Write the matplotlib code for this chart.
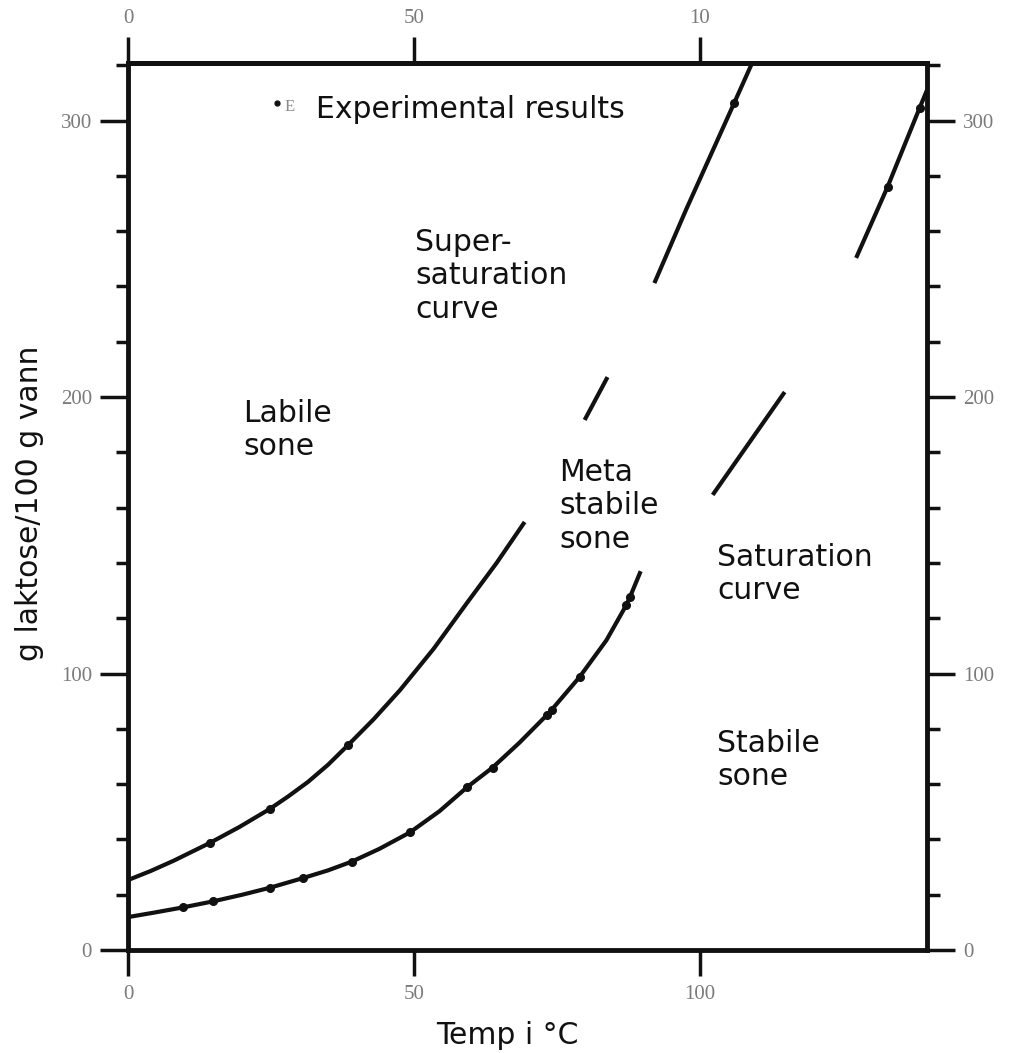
import matplotlib
matplotlib.use("Agg")
import matplotlib.pyplot as plt
from matplotlib.ticker import MultipleLocator

# ---- data ----
# Supersaturation curve, visible pieces (temp °C, g lactose / 100 g water)
sup_a_x = [0, 4, 8, 14.3, 19.5, 24.8, 28, 31.5, 35, 38.5, 43, 47.6, 53.5, 59.3, 64.5, 69.4]
sup_a_y = [25.3, 28.6, 32.3, 38.7, 44.5, 51.0, 55.5, 60.8, 67.0, 74.1, 83.5, 94.0, 109.0, 125.5, 140.0, 154.8]
sup_b_x = [79.9, 83.9]
sup_b_y = [191.7, 207.2]
sup_c_x = [92.1, 97.7, 106.1, 109.2]
sup_c_y = [241.2, 268.0, 306.5, 320.8]

# Saturation curve, visible pieces
sat_a_x = [0, 4.5, 9.6, 14.9, 20, 24.8, 30.6, 35, 39.2, 44, 49.3, 54.5, 59.4, 63.8, 68.5,
           73.3, 74.1, 79.0, 83.7, 87.2, 87.8, 89.7]
sat_a_y = [11.9, 13.5, 15.4, 17.6, 20.0, 22.5, 26.0, 28.8, 32.0, 36.6, 42.5, 50.2, 59.0, 66.0,
           75.0, 85.0, 86.8, 98.7, 112.0, 124.8, 127.5, 137.0]
sat_b_x = [102.3, 108.6, 114.9]
sat_b_y = [164.6, 183.2, 201.8]
sat_c_x = [127.4, 132.9, 138.5, 139.8]
sat_c_y = [250.3, 276.0, 304.5, 311.0]

# Experimental results (dots)
exp_sup_x = [14.3, 24.8, 38.5, 106.1]
exp_sup_y = [38.7, 51.0, 74.1, 306.5]
exp_sat_x = [9.6, 14.9, 24.8, 30.6, 39.2, 49.3, 59.4, 63.8, 73.3, 74.1, 79.0, 87.2, 87.8, 132.9, 138.5]
exp_sat_y = [15.4, 17.6, 22.5, 26.0, 32.0, 42.5, 59.0, 66.0, 85.0, 86.8, 98.7, 124.8, 127.5, 276.0, 304.5]

x_ticks = [0, 50, 100]
x_ticklabels_bottom = ["0", "50", "100"]
x_ticklabels_top = ["0", "50", "10"]
y_ticks = [0, 100, 200, 300]

# ---- figure ----
W, H = 1009, 1053
fig = plt.figure(figsize=(W / 100, H / 100), dpi=100)
ax = fig.add_axes([128 / W, 1 - 950 / H, (927 - 128) / W, (950 - 63) / H])
ax.set_xlim(0, 139.8)
ax.set_ylim(0, 320.8)

ink = "#111111"
lw_curve = 3.0
for xs, ys in [(sup_a_x, sup_a_y), (sup_b_x, sup_b_y), (sup_c_x, sup_c_y),
               (sat_a_x, sat_a_y), (sat_b_x, sat_b_y), (sat_c_x, sat_c_y)]:
    ax.plot(xs, ys, color=ink, lw=lw_curve, solid_capstyle="butt",
            solid_joinstyle="round", clip_on=False, zorder=3)

ax.plot(exp_sup_x, exp_sup_y, "o", color=ink, ms=5.5, zorder=4, clip_on=False)
ax.plot(exp_sat_x, exp_sat_y, "o", color=ink, ms=5.5, zorder=4, clip_on=False)

for s in ax.spines.values():
    s.set_linewidth(3.5)
    s.set_color(ink)

tick_family, tick_size, tick_color = "Liberation Serif", 15, "#7a7a7a"

ax.set_yticks(y_ticks)
ax.yaxis.set_minor_locator(MultipleLocator(20))
ax.set_xticks(x_ticks)
ax.set_xticklabels(x_ticklabels_bottom)
ax.tick_params(axis="y", which="major", direction="out", length=20, width=2.5,
               color=ink, left=True, right=True, labelleft=True, labelright=True, pad=6)
ax.tick_params(axis="y", which="minor", direction="out", length=9, width=2.5,
               color=ink, left=True, right=True)
ax.tick_params(axis="x", which="major", direction="out", length=19, width=2.5,
               color=ink, bottom=True, top=False, pad=6)
for t in ax.yaxis.get_major_ticks() + ax.xaxis.get_major_ticks():
    for lab in (t.label1, t.label2):
        lab.set_fontfamily(tick_family)
        lab.set_fontsize(tick_size)
        lab.set_color(tick_color)

sec = ax.secondary_xaxis("top")
sec.set_xticks(x_ticks)
sec.set_xticklabels(x_ticklabels_top)
sec.tick_params(direction="out", length=19, width=2.5, color=ink, pad=6)
sec.spines["top"].set_linewidth(3.5)
for lab in sec.get_xticklabels():
    lab.set_fontfamily(tick_family)
    lab.set_fontsize(tick_size)
    lab.set_color(tick_color)

# ---- annotations ----
fs = 21.5
txt = dict(fontsize=fs, family="DejaVu Sans", color="#111111", ha="left", va="center",
           linespacing=1.2)
ax.text(32.9, 304.0, "Experimental results", **txt)
ax.plot([26.0], [306.3], "o", color=ink, ms=3.5)
ax.text(27.4, 304.8, "E", fontsize=12, family="Liberation Serif", color="#8a8a8a",
        ha="left", va="center")
ax.text(50.3, 243.8, "Super-\nsaturation\ncurve", **txt)
ax.text(20.1, 188.1, "Labile\nsone", **txt)
ax.text(75.5, 160.6, "Meta\nstabile\nsone", **txt)
ax.text(103.1, 136.0, "Saturation\ncurve", **txt)
ax.text(103.1, 68.7, "Stabile\nsone", **txt)

fig.text(507 / W, 1 - 1035 / H, "Temp i °C", fontsize=fs, family="DejaVu Sans",
         ha="center", va="center", color="#111111")
fig.text(30 / W, 1 - 503 / H, "g laktose/100 g vann", fontsize=fs, family="DejaVu Sans",
         ha="center", va="center", rotation=90, color="#111111")

fig.savefig("out.png", dpi=100, facecolor="white")
